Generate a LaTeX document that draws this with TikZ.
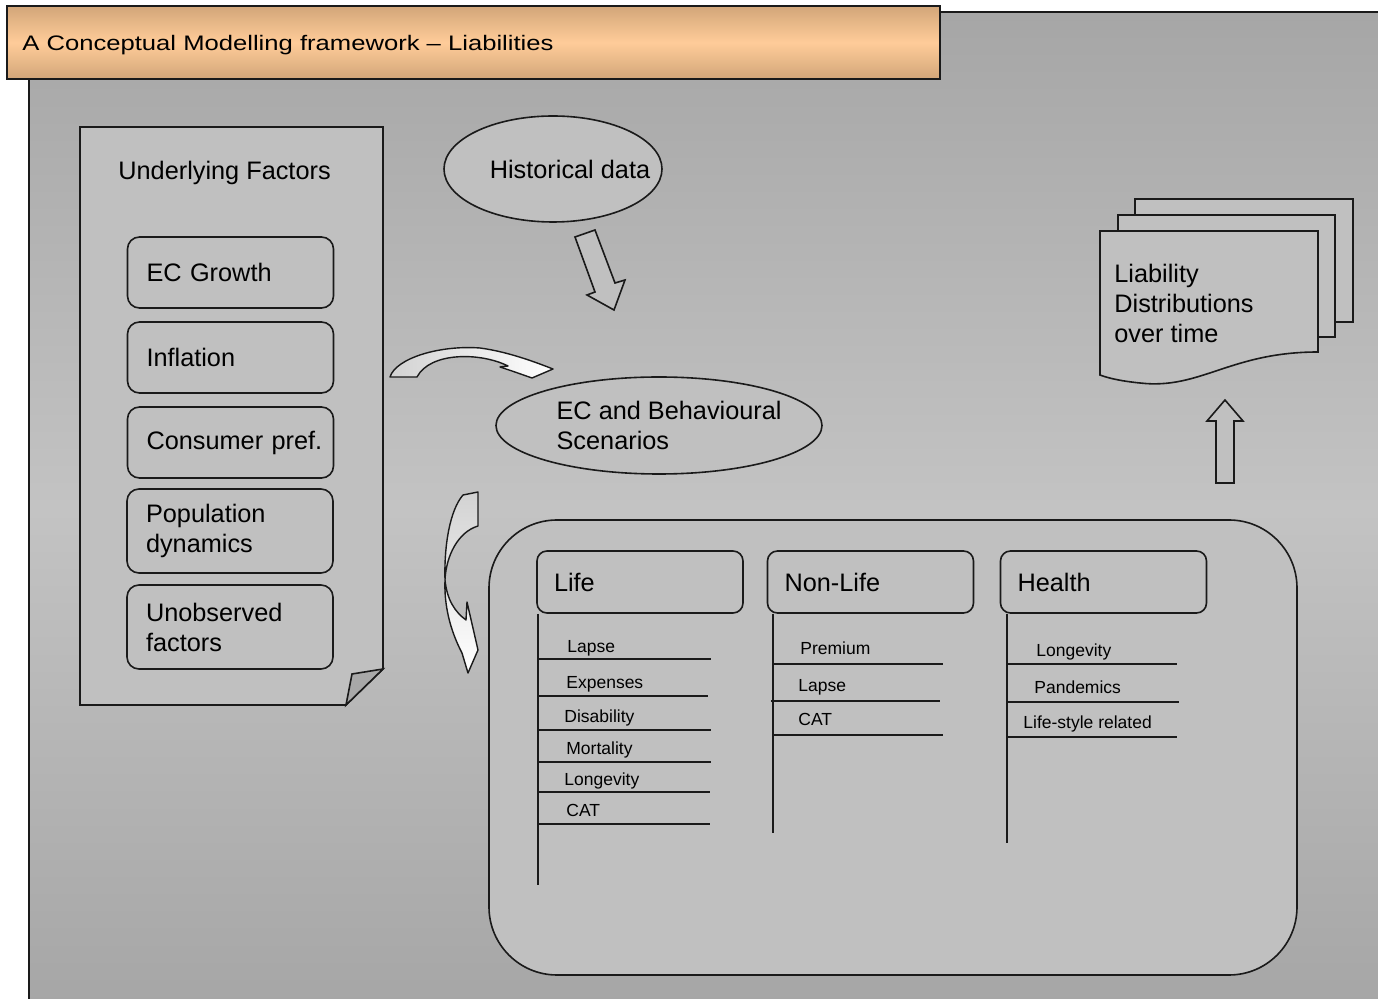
\documentclass[tikz,border=0pt]{standalone}
\usepackage{fontspec}
\setmainfont{Liberation Sans}
\usepackage{graphicx}
\usetikzlibrary{shapes.geometric}

\definecolor{panel}{HTML}{C0C0C0}
\definecolor{bgdark}{HTML}{A6A6A6}
\definecolor{bglight}{HTML}{C3C3C3}
\definecolor{tanedge}{HTML}{D2A679}
\definecolor{peach}{HTML}{FFCC99}
\definecolor{ink}{HTML}{1A1A1A}
\definecolor{foldgrey}{HTML}{A8A8A8}

\newcommand\fmain{\fontsize{12.65pt}{15pt}\selectfont}
\newcommand\fitem{\fontsize{8.75pt}{10pt}\selectfont}
\newcommand\ftitle{\fontsize{10.5pt}{12pt}\selectfont}

\tikzset{
  outline/.style={draw=ink, line width=0.8pt},
  factorbox/.style={outline, fill=panel, rounded corners=6pt, text width=84pt,
    inner xsep=9.5pt, align=left, font=\fmain},
  header/.style={outline, fill=panel, rounded corners=5pt, text width=86pt,
    inner xsep=8.5pt, minimum height=31pt, align=left, font=\fmain},
  cloud/.style={ellipse, outline, fill=panel},
  item/.style={anchor=base west, inner sep=0, font=\fitem},
  rule/.style={draw=ink, line width=0.7pt},
  blockarrow/.style={outline, fill=panel, line join=miter},
  bentarrow/.style={draw=ink, line width=0.7pt, line join=round},
}

\begin{document}
\begin{tikzpicture}[x=0.5pt, y=-0.5pt]
\useasboundingbox (0,0) rectangle (1378,999);
\clip (0,0) rectangle (1378,999);

% slide background
\shade[top color=bgdark, bottom color=bgdark, middle color=bglight]
  (29,12) rectangle (1390,1005);
\draw[ink, line width=0.8pt] (29,1005) -- (29,12) -- (1390,12);

% title bar
\node[draw=ink, line width=0.9pt, top color=tanedge, bottom color=tanedge,
  middle color=peach, minimum width=466.5pt, minimum height=36.5pt, inner sep=0]
  (titlebar) at (473.5,42.5) {};
\node[anchor=west, inner sep=0, font=\ftitle] (titletext) at (22,45)
  {\scalebox{1.22}[1]{A Conceptual Modelling framework \textendash\ Liabilities}};

% underlying factors sheet with folded corner
\draw[outline, fill=panel, line join=miter]
  (80,127) -- (383,127) -- (383,669) -- (346,705) -- (80,705) -- cycle;
\draw[outline, fill=foldgrey, line join=miter]
  (346,705) -- (352,674) -- (383,669) -- cycle;
\node[anchor=base west, inner sep=0, font=\fmain] (factors) at (118,180)
  {Underlying Factors};

\node[factorbox, minimum height=35.5pt] (growth) at (230.5,272.5) {EC Growth};
\node[factorbox, minimum height=35.5pt] (inflation) at (230.5,357.5) {Inflation};
\node[factorbox, minimum height=35.5pt] (consumer) at (230.5,442.5) {\mbox{Consumer pref.}};
\node[factorbox, minimum height=42pt] (population) at (230,531) {Population\\dynamics};
\node[factorbox, minimum height=42pt] (unobserved) at (230,627) {Unobserved\\factors};

% historical data and scenarios
\node[cloud, minimum width=109pt, minimum height=53pt] (hist) at (553,169) {};
\node[inner sep=0, font=\fmain] (histtext) at ([xshift=8.5pt]hist.center) {Historical data};

\node[cloud, minimum width=163pt, minimum height=48.5pt] (scen) at (659,425.5) {};
\node[anchor=west, inner sep=0, align=left, font=\fmain] (scentext)
  at ([xshift=30.5pt]scen.west) {EC and Behavioural\\Scenarios};

% arrow from historical data down to the scenarios
\draw[blockarrow]
  (575,237) -- (595,230) -- (615,283) -- (625,280) -- (614,310) -- (587,295) -- (595,292) -- cycle;

% bent arrow from the factors to the scenarios
\draw[bentarrow, left color=gray!35, right color=white]
  (390,377) .. controls (396,358) and (440,345) .. (480,348)
  .. controls (510,352) and (540,364) .. (553,369)
  -- (532,378) -- (512,371) -- (500,367) -- (508,366)
  .. controls (480,352) and (430,352) .. (417,377) -- cycle;

% bent arrow from the scenarios down to the risk blocks
\draw[bentarrow, top color=gray!35, bottom color=white]
  (463,495) -- (478,492) -- (478,526)
  .. controls (458,532) and (446,556) .. (445,580)
  .. controls (447,600) and (455,612) .. (466,620)
  -- (467,602) -- (478,650) -- (468,673) -- (462,653)
  .. controls (450,630) and (444,605) .. (445,580)
  .. controls (444,545) and (450,510) .. (463,495) -- cycle;

% risk blocks container
\node[outline, fill=panel, rounded corners=34pt, minimum width=404pt,
  minimum height=227.5pt] (risks) at (893,747.5) {};

\node[header] (life) at (640,582) {Life};
\node[header] (nonlife) at (870.5,582) {Non-Life};
\node[header] (health) at (1103.5,582) {Health};

% Life
\coordinate (lifeend) at (538,885);
\draw[rule] (life.south west -| lifeend) -- (lifeend);
\foreach \name/\txt/\tx/\ty/\ly/\la/\lb in {
    l1/Lapse/567/653/659/539/711,
    l2/Expenses/566/689/696/537/708,
    l3/Disability/564/723/730/539/711,
    l4/Mortality/566/755/762/539/711,
    l5/Longevity/564/786/792/539/710,
    l6/CAT/566/817/824/538/710}{
  \node[item] (\name) at (\tx,\ty) {\txt};
  \draw[rule] (\la,\ly) -- (\lb,\ly);
}

% Non-Life
\coordinate (nonlifeend) at (773,833);
\draw[rule] (nonlife.south west -| nonlifeend) -- (nonlifeend);
\foreach \name/\txt/\tx/\ty/\ly/\la/\lb in {
    n1/Premium/800/655/664/773/943,
    n2/Lapse/798/692/701/771/940,
    n3/CAT/798/726/735/773/943}{
  \node[item] (\name) at (\tx,\ty) {\txt};
  \draw[rule] (\la,\ly) -- (\lb,\ly);
}

% Health
\coordinate (healthend) at (1007,843);
\draw[rule] (health.south west -| healthend) -- (healthend);
\foreach \name/\txt/\tx/\ty/\ly/\la/\lb in {
    h1/Longevity/1036/657/664/1007/1177,
    h2/Pandemics/1034/694/702/1007/1179,
    h3/Life-style related/1023/729/737/1007/1177}{
  \node[item] (\name) at (\tx,\ty) {\txt};
  \draw[rule] (\la,\ly) -- (\lb,\ly);
}

% arrow up to the output distributions
\draw[blockarrow]
  (1216,483) -- (1216,421) -- (1207,421) -- (1225,400) -- (1243,421)
  -- (1234,421) -- (1234,483) -- cycle;

% stack of output documents
\draw[outline, fill=panel] (1135,199) rectangle (1353,322);
\draw[outline, fill=panel] (1118,215) rectangle (1335,337);
\draw[outline, fill=panel, line join=miter]
  (1100,231) -- (1318,231) -- (1318,352)
  .. controls (1230,352) and (1200,390) .. (1140,383)
  .. controls (1120,381) and (1108,378) .. (1100,375) -- cycle;
\node[anchor=west, inner sep=0, align=left, font=\fmain] (output) at (1114,303)
  {Liability\\Distributions\\over time};

\end{tikzpicture}
\end{document}
